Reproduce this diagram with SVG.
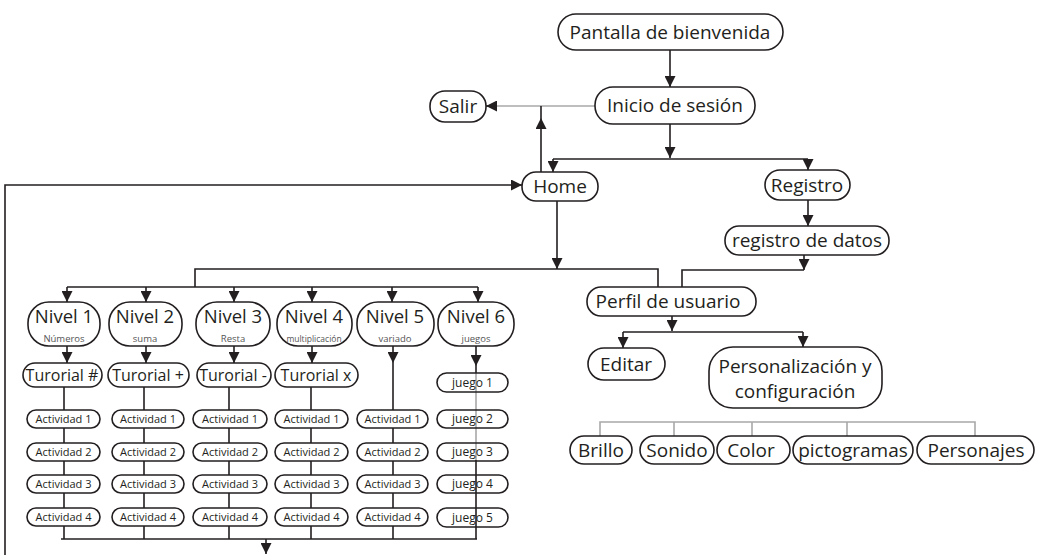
<svg xmlns="http://www.w3.org/2000/svg" width="1037" height="558" viewBox="0 0 1037 558">
<style>
text{font-family:"Open Sans","Liberation Sans",sans-serif;fill:#231f20;text-anchor:middle}
.n rect{fill:#fff;stroke:#231f20;stroke-width:1.6}
.j rect{fill:none;stroke:#231f20;stroke-width:1.6}
.m{font-size:19px}
.t{font-size:16px}
.lv{font-size:18.5px}
.sub{font-size:9.5px;fill:#555}
.s{font-size:11px}
.sj{font-size:12px}
.c line,.c polyline,.c path{stroke:#231f20;stroke-width:1.6;fill:none}
.c .g{stroke:#a8a8a8}
.c .a{marker-end:url(#ah)}
</style>
<defs>
<marker id="ah" viewBox="0 0 10 10" refX="10" refY="5" markerWidth="11" markerHeight="11" markerUnits="userSpaceOnUse" orient="auto">
<path d="M0,0 L10,5 L0,10 z" fill="#231f20"/>
</marker>
</defs>
<rect width="1037" height="558" fill="#fff"/>
<g id="connectors" class="c">
<line class="a" x1="670" y1="50" x2="670" y2="87"/>
<line class="g" x1="595" y1="106" x2="496" y2="106"/>
<line class="a" x1="496" y1="106" x2="486" y2="106"/>
<line class="a" x1="541" y1="172" x2="541" y2="118"/>
<line x1="541" y1="118" x2="541" y2="106"/>
<line class="a" x1="670" y1="124" x2="670" y2="158"/>
<polyline points="553,159 808,159"/>
<line class="a" x1="553" y1="159" x2="553" y2="172"/>
<line class="a" x1="808" y1="159" x2="808" y2="170"/>
<polyline points="5,555 5,185 512,185"/>
<line class="a" x1="512" y1="185" x2="522" y2="185"/>
<line class="a" x1="557" y1="201" x2="557" y2="269"/>
<polyline points="195,287 195,269 658,269 658,287"/>
<polyline points="67,287 478,287"/>
<line class="a" x1="67" y1="287" x2="67" y2="302"/>
<line class="a" x1="146" y1="287" x2="146" y2="302"/>
<line class="a" x1="234" y1="287" x2="234" y2="302"/>
<line class="a" x1="312" y1="287" x2="312" y2="302"/>
<line class="a" x1="392" y1="287" x2="392" y2="302"/>
<line class="a" x1="478" y1="287" x2="478" y2="302"/>
<line class="a" x1="67" y1="346" x2="67" y2="363"/>
<line class="a" x1="146" y1="346" x2="146" y2="363"/>
<line class="a" x1="234" y1="346" x2="234" y2="363"/>
<line class="a" x1="312" y1="346" x2="312" y2="363"/>
<line class="a" x1="393" y1="346" x2="393" y2="363"/>
<line x1="393" y1="363" x2="393" y2="539"/>
<line class="a" x1="476" y1="346" x2="476" y2="366"/>
<line x1="476" y1="366" x2="476" y2="373"/>
<line class="g" x1="476" y1="373" x2="476" y2="460"/>
<line x1="476" y1="460" x2="476" y2="539"/>
<line x1="64" y1="387" x2="64" y2="539"/>
<line x1="144" y1="387" x2="144" y2="539"/>
<line x1="229" y1="387" x2="229" y2="539"/>
<line x1="311" y1="387" x2="311" y2="539"/>
<polyline points="61,539 477,539"/>
<line class="a" x1="266" y1="539" x2="266" y2="554"/>
<line class="a" x1="808" y1="200" x2="808" y2="226"/>
<line class="a" x1="804" y1="255" x2="804" y2="270"/>
<polyline points="804,270 682,270 682,287"/>
<line class="a" x1="672" y1="316" x2="672" y2="331"/>
<polyline points="623,332 803,332"/>
<line class="a" x1="623" y1="332" x2="623" y2="348"/>
<line class="a" x1="803" y1="332" x2="803" y2="347"/>
<polyline class="g" points="600,436 600,422 975,422 975,436"/>
<line class="g" x1="674" y1="422" x2="674" y2="436"/>
<line class="g" x1="752" y1="422" x2="752" y2="436"/>
<line class="g" x1="847" y1="422" x2="847" y2="436"/>
</g>
<g id="pantalla" class="n"><rect x="558" y="14" width="225" height="36" rx="18"/><text class="m" x="670" y="39">Pantalla de bienvenida</text></g>
<g id="inicio" class="n"><rect x="595" y="87" width="160" height="37" rx="18"/><text class="m" x="675" y="112">Inicio de sesión</text></g>
<g id="salir" class="n"><rect x="430" y="91" width="56" height="31" rx="15"/><text class="m" x="458" y="113">Salir</text></g>
<g id="home" class="n"><rect x="522" y="172" width="76" height="29" rx="14"/><text class="m" x="560" y="193">Home</text></g>
<g id="registro" class="n"><rect x="765" y="170" width="85" height="30" rx="15"/><text class="m" x="807" y="192">Registro</text></g>
<g id="registro-datos" class="n"><rect x="725" y="226" width="164" height="29" rx="14"/><text class="m" x="807" y="247">registro de datos</text></g>
<g id="perfil" class="n"><rect x="587" y="287" width="169" height="29" rx="14"/><text class="m" x="668" y="308">Perfil de usuario</text></g>
<g id="editar" class="n"><rect x="588" y="348" width="77" height="32" rx="16"/><text class="m" x="626" y="371">Editar</text></g>
<g id="personalizacion" class="n"><rect x="709" y="347" width="173" height="61" rx="24"/><text class="m" x="795" y="373">Personalización y</text><text class="m" x="795" y="398">configuración</text></g>
<g id="brillo" class="n"><rect x="570" y="436" width="62" height="28" rx="14"/><text class="m" x="601" y="457">Brillo</text></g>
<g id="sonido" class="n"><rect x="640" y="436" width="74" height="28" rx="14"/><text class="m" x="677" y="457">Sonido</text></g>
<g id="color" class="n"><rect x="717" y="436" width="73" height="28" rx="14"/><text class="m" x="751" y="457">Color</text></g>
<g id="pictogramas" class="n"><rect x="793" y="436" width="120" height="28" rx="14"/><text class="m" x="853" y="457">pictogramas</text></g>
<g id="personajes" class="n"><rect x="917" y="436" width="117" height="28" rx="14"/><text class="m" x="976" y="457">Personajes</text></g>
<g id="nivel1" class="n"><rect x="28" y="302" width="72" height="44" rx="21"/><text class="lv" x="64" y="323">Nivel 1</text><text class="sub" x="64" y="342">Números</text></g>
<g id="nivel2" class="n"><rect x="109" y="302" width="73" height="44" rx="21"/><text class="lv" x="145" y="323">Nivel 2</text><text class="sub" x="145" y="342">suma</text></g>
<g id="nivel3" class="n"><rect x="196" y="302" width="74" height="44" rx="21"/><text class="lv" x="233" y="323">Nivel 3</text><text class="sub" x="233" y="342">Resta</text></g>
<g id="nivel4" class="n"><rect x="277" y="302" width="75" height="44" rx="21"/><text class="lv" x="314" y="323">Nivel 4</text><text class="sub" x="314" y="342" style="font-size:8.5px">multiplicación</text></g>
<g id="nivel5" class="n"><rect x="357" y="302" width="77" height="44" rx="21"/><text class="lv" x="395" y="323">Nivel 5</text><text class="sub" x="395" y="342">variado</text></g>
<g id="nivel6" class="n"><rect x="438" y="302" width="76" height="44" rx="21"/><text class="lv" x="476" y="323">Nivel 6</text><text class="sub" x="476" y="342">juegos</text></g>
<g id="tut1" class="n"><rect x="23" y="363" width="79" height="24" rx="12"/><text class="t" x="62" y="381">Turorial #</text></g>
<g id="tut2" class="n"><rect x="108" y="363" width="81" height="24" rx="12"/><text class="t" x="148" y="381">Turorial +</text></g>
<g id="tut3" class="n"><rect x="197" y="363" width="74" height="24" rx="12"/><text class="t" x="233" y="381">Turorial -</text></g>
<g id="tut4" class="n"><rect x="275" y="363" width="83" height="24" rx="12"/><text class="t" x="316" y="381">Turorial x</text></g>
<g id="c1a1" class="n"><rect x="27" y="410" width="73" height="18" rx="9"/><text class="s" x="63.5" y="423">Actividad 1</text></g>
<g id="c1a2" class="n"><rect x="27" y="443" width="73" height="18" rx="9"/><text class="s" x="63.5" y="456">Actividad 2</text></g>
<g id="c1a3" class="n"><rect x="27" y="475" width="73" height="18" rx="9"/><text class="s" x="63.5" y="488">Actividad 3</text></g>
<g id="c1a4" class="n"><rect x="27" y="508" width="73" height="18" rx="9"/><text class="s" x="63.5" y="521">Actividad 4</text></g>
<g id="c2a1" class="n"><rect x="112" y="410" width="72" height="18" rx="9"/><text class="s" x="148" y="423">Actividad 1</text></g>
<g id="c2a2" class="n"><rect x="112" y="443" width="72" height="18" rx="9"/><text class="s" x="148" y="456">Actividad 2</text></g>
<g id="c2a3" class="n"><rect x="112" y="475" width="72" height="18" rx="9"/><text class="s" x="148" y="488">Actividad 3</text></g>
<g id="c2a4" class="n"><rect x="112" y="508" width="72" height="18" rx="9"/><text class="s" x="148" y="521">Actividad 4</text></g>
<g id="c3a1" class="n"><rect x="193" y="410" width="74" height="18" rx="9"/><text class="s" x="230" y="423">Actividad 1</text></g>
<g id="c3a2" class="n"><rect x="193" y="443" width="74" height="18" rx="9"/><text class="s" x="230" y="456">Actividad 2</text></g>
<g id="c3a3" class="n"><rect x="193" y="475" width="74" height="18" rx="9"/><text class="s" x="230" y="488">Actividad 3</text></g>
<g id="c3a4" class="n"><rect x="193" y="508" width="74" height="18" rx="9"/><text class="s" x="230" y="521">Actividad 4</text></g>
<g id="c4a1" class="n"><rect x="275" y="410" width="73" height="18" rx="9"/><text class="s" x="311.5" y="423">Actividad 1</text></g>
<g id="c4a2" class="n"><rect x="275" y="443" width="73" height="18" rx="9"/><text class="s" x="311.5" y="456">Actividad 2</text></g>
<g id="c4a3" class="n"><rect x="275" y="475" width="73" height="18" rx="9"/><text class="s" x="311.5" y="488">Actividad 3</text></g>
<g id="c4a4" class="n"><rect x="275" y="508" width="73" height="18" rx="9"/><text class="s" x="311.5" y="521">Actividad 4</text></g>
<g id="c5a1" class="n"><rect x="357" y="410" width="71" height="18" rx="9"/><text class="s" x="392.5" y="423">Actividad 1</text></g>
<g id="c5a2" class="n"><rect x="357" y="443" width="71" height="18" rx="9"/><text class="s" x="392.5" y="456">Actividad 2</text></g>
<g id="c5a3" class="n"><rect x="357" y="475" width="71" height="18" rx="9"/><text class="s" x="392.5" y="488">Actividad 3</text></g>
<g id="c5a4" class="n"><rect x="357" y="508" width="71" height="18" rx="9"/><text class="s" x="392.5" y="521">Actividad 4</text></g>
<g id="juego1" class="j"><rect x="437" y="373" width="71" height="19" rx="9.5"/><text class="sj" x="472.5" y="387">juego 1</text></g>
<g id="juego2" class="j"><rect x="437" y="410" width="71" height="18" rx="9"/><text class="sj" x="472.5" y="423">juego 2</text></g>
<g id="juego3" class="j"><rect x="437" y="443" width="71" height="18" rx="9"/><text class="sj" x="472.5" y="456">juego 3</text></g>
<g id="juego4" class="j"><rect x="437" y="475" width="71" height="18" rx="9"/><text class="sj" x="472.5" y="488">juego 4</text></g>
<g id="juego5" class="j"><rect x="437" y="508" width="71" height="19" rx="9.5"/><text class="sj" x="472.5" y="522">juego 5</text></g>
</svg>
